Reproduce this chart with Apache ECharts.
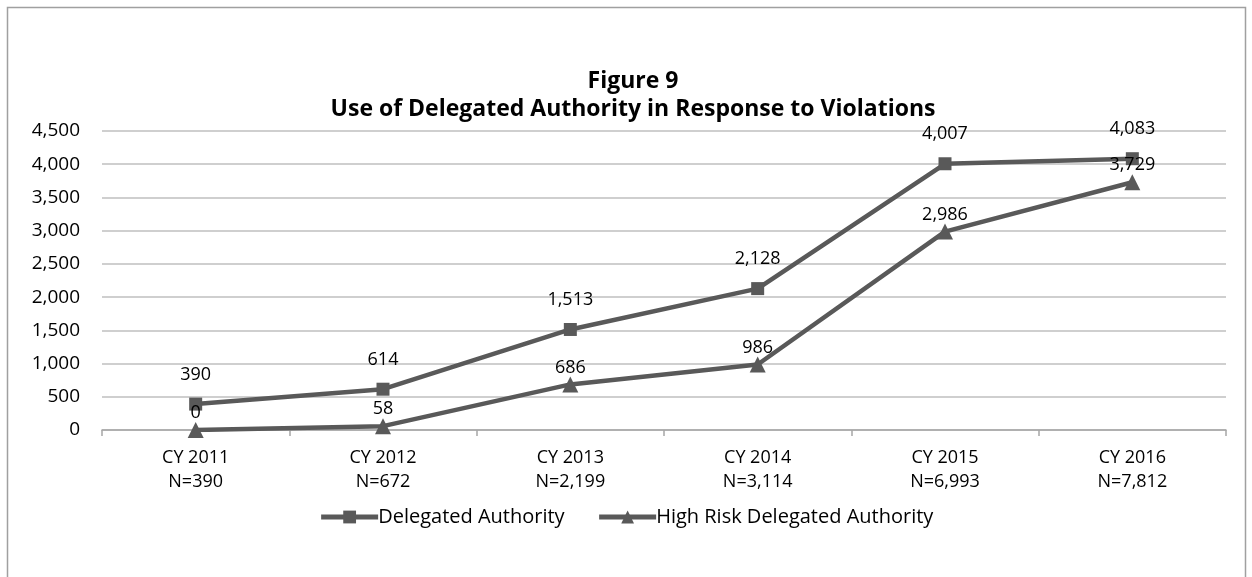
<!DOCTYPE html>
<html>
<head>
<meta charset="utf-8">
<script src="https://cdn.jsdelivr.net/npm/echarts@6/dist/echarts.min.js"></script>
<style>
html, body { margin: 0; padding: 0; background: #fff; }
#main { width: 1252px; height: 577px; }
</style>
</head>
<body>
<div id="main"></div>
<script>
var years = ['CY 2011', 'CY 2012', 'CY 2013', 'CY 2014', 'CY 2015', 'CY 2016'];
var totals = ['390', '672', '2,199', '3,114', '6,993', '7,812'];
var delegated = [390, 614, 1513, 2128, 4007, 4083];
var highRisk = [0, 58, 686, 986, 2986, 3729];

var categories = years.map(function (y, i) { return y + '\nN=' + totals[i]; });

var myChart = echarts.init(document.getElementById('main'));
var font = '"Open Sans", sans-serif';
var lineColor = '#595959';

function fmt(p) { return p.value.toLocaleString('en-US'); }

var option = {
    animation: false,
    textStyle: { fontFamily: font },
    title: {
        text: 'Figure 9\nUse of Delegated Authority in Response to Violations',
        left: 628,
        textAlign: 'center',
        top: 62,
        textStyle: { fontFamily: font, fontSize: 23, fontWeight: 'bold', color: '#000', lineHeight: 28 }
    },
    graphic: [{
        type: 'rect',
        shape: { x: 7.5, y: 7.5, width: 1238, height: 620 },
        style: { fill: 'none', stroke: '#a0a0a0', lineWidth: 1.5 },
        silent: true
    }],
    grid: { left: 102, right: 26, top: 131, bottom: 147, containLabel: false },
    legend: {
        bottom: 45,
        left: 'center',
        itemWidth: 57,
        itemHeight: 16,
        itemGap: 32,
        lineStyle: { width: 5, color: lineColor },
        textStyle: { fontFamily: font, fontSize: 20, color: '#000', padding: [0, 0, 0, -5] },
        data: ['Delegated Authority', 'High Risk Delegated Authority']
    },
    xAxis: {
        type: 'category',
        data: categories,
        boundaryGap: true,
        axisLine: { lineStyle: { color: '#a6a6a6', width: 1.5 } },
        axisTick: { show: true, length: 6, lineStyle: { color: '#a6a6a6', width: 1.5 } },
        axisLabel: { fontFamily: font, fontSize: 18, color: '#000', lineHeight: 24, margin: 16 }
    },
    yAxis: {
        type: 'value',
        min: 0,
        max: 4500,
        interval: 500,
        axisLine: { show: false },
        axisTick: { show: false },
        splitLine: { lineStyle: { color: '#bfbfbf', width: 1.5 } },
        axisLabel: {
            fontFamily: font, fontSize: 19, color: '#000', margin: 22,
            formatter: function (v) { return v.toLocaleString('en-US'); }
        }
    },
    series: [{
        name: 'Delegated Authority',
        type: 'line',
        data: delegated,
        symbol: 'rect',
        symbolSize: 13,
        color: lineColor,
        lineStyle: { color: lineColor, width: 4.5 },
        itemStyle: { color: lineColor },
        label: {
            show: true, position: 'top', distance: 14,
            fontFamily: font, fontSize: 18, color: '#000', formatter: fmt
        }
    }, {
        name: 'High Risk Delegated Authority',
        type: 'line',
        data: highRisk,
        symbol: 'triangle',
        symbolSize: 16,
        color: lineColor,
        lineStyle: { color: lineColor, width: 4.5 },
        itemStyle: { color: lineColor },
        label: {
            show: true, position: 'top', distance: 0,
            fontFamily: font, fontSize: 18, color: '#000', formatter: fmt
        }
    }]
};

myChart.setOption(option);
</script>
</body>
</html>
